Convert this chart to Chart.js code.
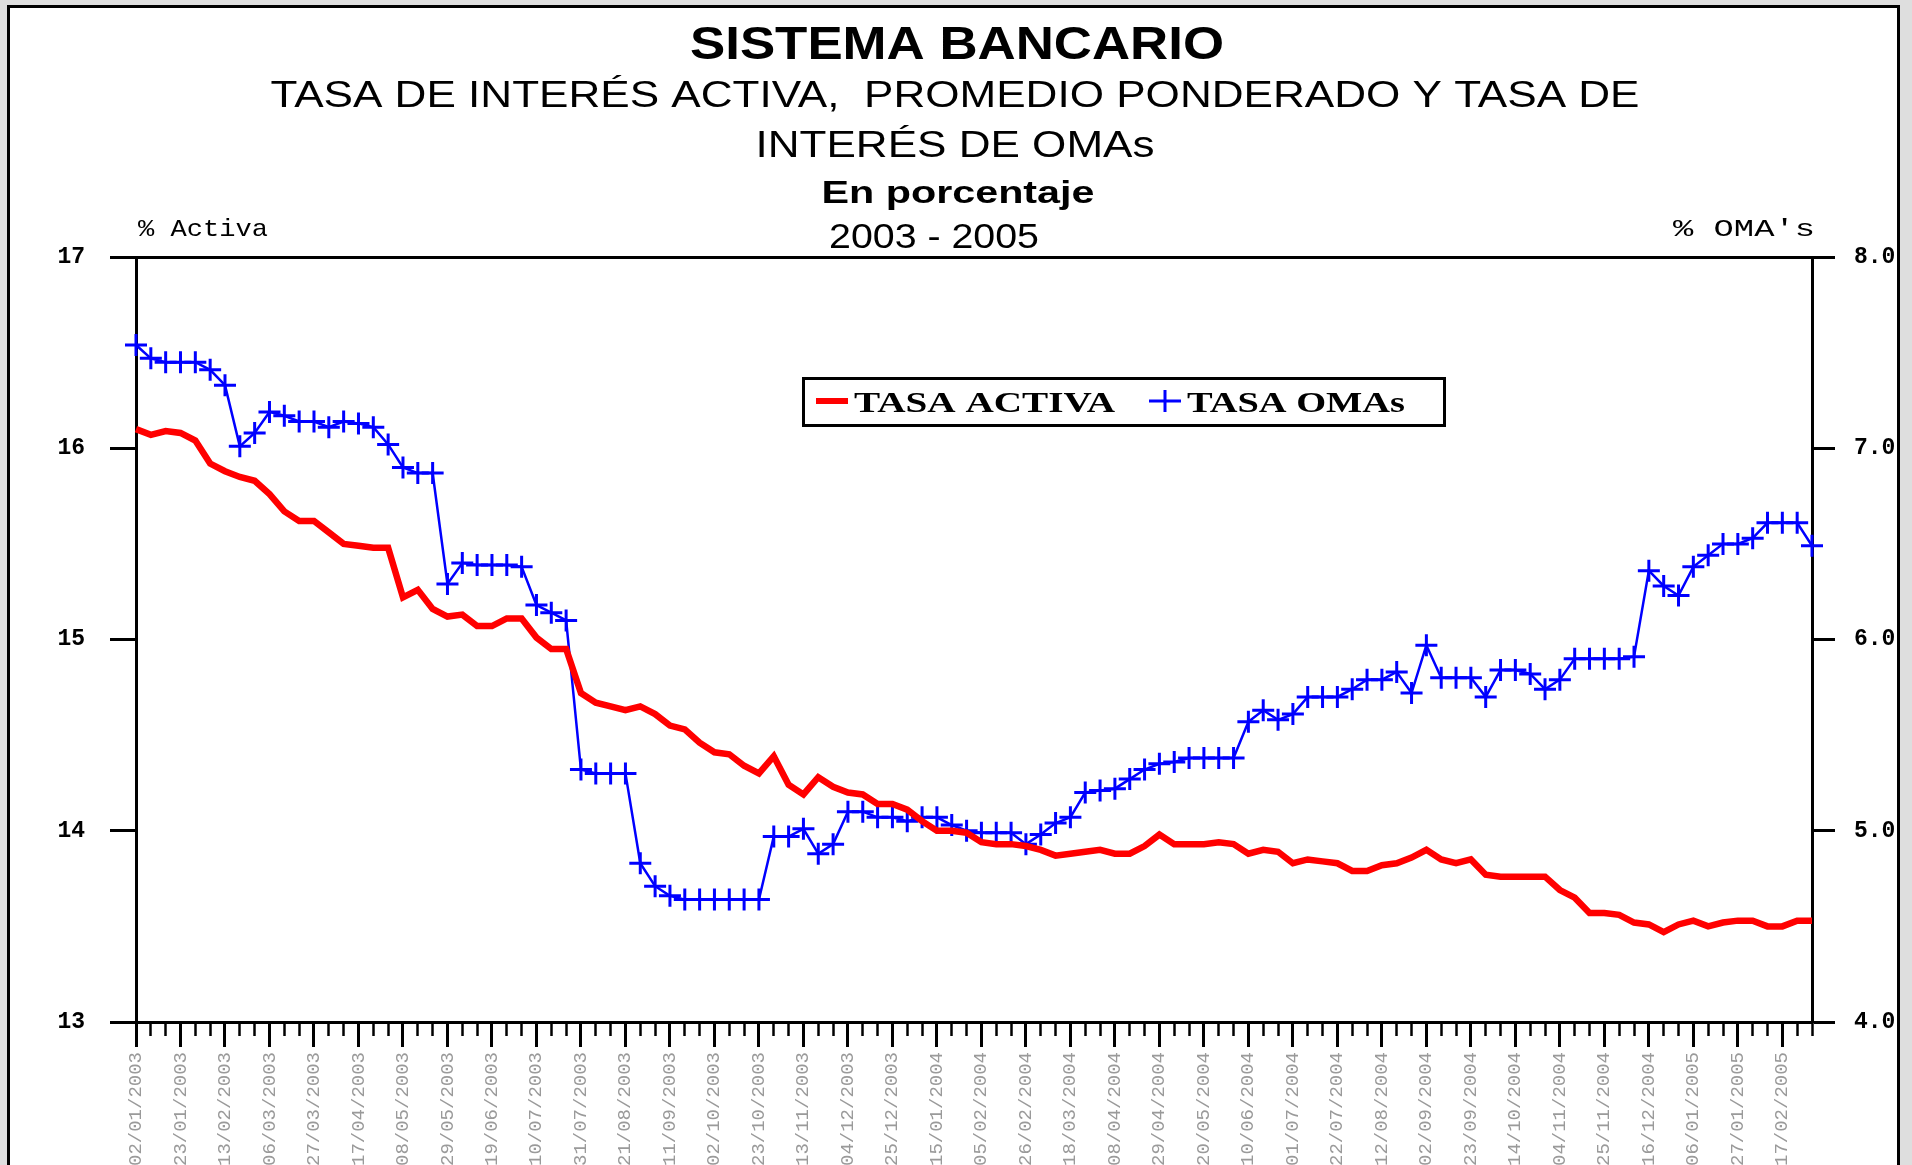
<!DOCTYPE html>
<html>
<head>
  <meta charset="utf-8">
  <title>Sistema Bancario - Tasa activa y tasa de OMAs</title>
  <script src="https://cdn.jsdelivr.net/npm/chart.js"></script>
  <style>
    body {
      margin: 0;
      background: #dedede;
      overflow: hidden;
    }
    /* white framed sheet, runs past the bottom of the window like the scan */
    #chartContainer {
      position: absolute;
      left: 7px;
      top: 5px;
      width: 1887px;
      height: 1175px;
      border: 3px solid #000;
      background: #fff;
    }
  </style>
</head>
<body>
  <div id="chartContainer">
    <canvas id="lineChart"></canvas>
  </div>

  <script>
    // x axis labels, one every three weeks
    const tickLabels = [
      '02/01/2003', '23/01/2003', '13/02/2003', '06/03/2003', '27/03/2003', '17/04/2003',
      '08/05/2003', '29/05/2003', '19/06/2003', '10/07/2003', '31/07/2003', '21/08/2003',
      '11/09/2003', '02/10/2003', '23/10/2003', '13/11/2003', '04/12/2003', '25/12/2003',
      '15/01/2004', '05/02/2004', '26/02/2004', '18/03/2004', '08/04/2004', '29/04/2004',
      '20/05/2004', '10/06/2004', '01/07/2004', '22/07/2004', '12/08/2004', '02/09/2004',
      '23/09/2004', '14/10/2004', '04/11/2004', '25/11/2004', '16/12/2004', '06/01/2005',
      '27/01/2005', '17/02/2005'
    ];

    // tasa activa, promedio ponderado (% , left axis), weekly
    const tasaActiva = [
      16.10, 16.07, 16.09, 16.08, 16.04, 15.92, 15.88, 15.85, 15.83, 15.76,
      15.67, 15.62, 15.62, 15.56, 15.50, 15.49, 15.48, 15.48, 15.22, 15.26,
      15.16, 15.12, 15.13, 15.07, 15.07, 15.11, 15.11, 15.01, 14.95, 14.95,
      14.72, 14.67, 14.65, 14.63, 14.65, 14.61, 14.55, 14.53, 14.46, 14.41,
      14.40, 14.34, 14.30, 14.39, 14.24, 14.19, 14.28, 14.23, 14.20, 14.19,
      14.14, 14.14, 14.11, 14.05, 14.00, 14.00, 13.99, 13.94, 13.93, 13.93,
      13.92, 13.90, 13.87, 13.88, 13.89, 13.90, 13.88, 13.88, 13.92, 13.98,
      13.93, 13.93, 13.93, 13.94, 13.93, 13.88, 13.90, 13.89, 13.83, 13.85,
      13.84, 13.83, 13.79, 13.79, 13.82, 13.83, 13.86, 13.90, 13.85, 13.83,
      13.85, 13.77, 13.76, 13.76, 13.76, 13.76, 13.69, 13.65, 13.57, 13.57,
      13.56, 13.52, 13.51, 13.47, 13.51, 13.53, 13.50, 13.52, 13.53, 13.53,
      13.50, 13.50, 13.53, 13.53
    ];

    // tasa de OMAs (%, right axis), weekly
    const tasaOmas = [
      7.54, 7.47, 7.45, 7.45, 7.45, 7.41, 7.33, 7.01, 7.08, 7.19,
      7.17, 7.14, 7.14, 7.11, 7.14, 7.13, 7.11, 7.02, 6.90, 6.87,
      6.87, 6.29, 6.40, 6.39, 6.39, 6.39, 6.38, 6.18, 6.14, 6.10,
      5.32, 5.30, 5.30, 5.30, 4.83, 4.71, 4.66, 4.64, 4.64, 4.64,
      4.64, 4.64, 4.64, 4.97, 4.97, 5.01, 4.88, 4.93, 5.10, 5.10,
      5.07, 5.07, 5.05, 5.07, 5.07, 5.03, 5.00, 4.99, 4.99, 4.99,
      4.93, 4.98, 5.04, 5.07, 5.20, 5.21, 5.22, 5.27, 5.32, 5.35,
      5.36, 5.38, 5.38, 5.38, 5.38, 5.57, 5.63, 5.58, 5.61, 5.70,
      5.70, 5.70, 5.74, 5.79, 5.79, 5.83, 5.72, 5.97, 5.80, 5.80,
      5.80, 5.70, 5.84, 5.84, 5.82, 5.74, 5.79, 5.90, 5.90, 5.90,
      5.90, 5.91, 6.36, 6.28, 6.23, 6.38, 6.44, 6.50, 6.50, 6.53,
      6.61, 6.61, 6.61, 6.49
    ];

    // one category per week starting 02/01/2003
    const weeks = tasaActiva.map((v, i) => {
      const d = new Date(Date.UTC(2003, 0, 2 + 7 * i));
      const dd = String(d.getUTCDate()).padStart(2, '0');
      const mm = String(d.getUTCMonth() + 1).padStart(2, '0');
      return dd + '/' + mm + '/' + d.getUTCFullYear();
    });

    // text is stretched sideways to the widths seen in the scan
    function stretchText(ctx, text, x, y, font, width, align) {
      ctx.save();
      ctx.font = font;
      const natural = ctx.measureText(text).width;
      const left = align === 'center' ? x - width / 2 : x;
      ctx.translate(left, y);
      ctx.scale(width / natural, 1);
      ctx.textAlign = 'left';
      ctx.textBaseline = 'alphabetic';
      ctx.fillStyle = '#000';
      ctx.fillText(text, 0, 0);
      ctx.restore();
    }

    // titles, unit labels and the boxed legend
    const sheetText = {
      id: 'sheetText',
      afterDraw(chart) {
        const ctx = chart.ctx;
        const sans = '"Liberation Sans", Arial, sans-serif';
        stretchText(ctx, 'SISTEMA BANCARIO', 947, 51, 'bold 47px ' + sans, 534, 'center');
        stretchText(ctx, 'TASA DE INTERÉS ACTIVA,  PROMEDIO PONDERADO Y TASA DE', 945, 99, '37px ' + sans, 1369, 'center');
        stretchText(ctx, 'INTERÉS DE OMAs', 945, 149, '37px ' + sans, 399, 'center');
        stretchText(ctx, 'En porcentaje', 948, 195, 'bold 31px ' + sans, 273, 'center');
        stretchText(ctx, '2003 - 2005', 924, 240, '35px ' + sans, 210, 'center');

        const mono = '24px "Liberation Mono", monospace';
        stretchText(ctx, '% Activa', 128, 228, mono, 130, 'left');
        stretchText(ctx, "% OMA's", 1663, 228, mono, 142, 'left');

        // legend box
        ctx.save();
        ctx.strokeStyle = '#000';
        ctx.lineWidth = 3;
        ctx.strokeRect(793.5, 370.5, 641, 47);
        ctx.strokeStyle = '#ff0000';
        ctx.lineWidth = 6;
        ctx.beginPath();
        ctx.moveTo(806, 393);
        ctx.lineTo(838, 393);
        ctx.stroke();
        ctx.strokeStyle = '#0000ff';
        ctx.lineWidth = 3;
        ctx.beginPath();
        ctx.moveTo(1139, 393);
        ctx.lineTo(1171, 393);
        ctx.moveTo(1155, 382);
        ctx.lineTo(1155, 404);
        ctx.stroke();
        ctx.restore();
        const serif = 'bold 30px "Liberation Serif", serif';
        stretchText(ctx, 'TASA ACTIVA', 844, 404, serif, 261, 'left');
        stretchText(ctx, 'TASA OMAs', 1177, 404, serif, 218, 'left');
      }
    };

    const tickFont = { family: 'Liberation Mono', size: 23, weight: 'bold' };

    const ctx = document.getElementById('lineChart').getContext('2d');
    const myChart = new Chart(ctx, {
      type: 'line',
      data: {
        labels: weeks,
        datasets: [
          {
            label: 'TASA ACTIVA',
            data: tasaActiva,
            yAxisID: 'y',
            borderColor: '#ff0000',
            borderWidth: 6.5,
            pointRadius: 0,
            tension: 0
          },
          {
            label: 'TASA OMAs',
            data: tasaOmas,
            yAxisID: 'y1',
            borderColor: '#0000ff',
            backgroundColor: '#0000ff',
            borderWidth: 2.5,
            pointStyle: 'cross',
            pointRadius: 11,
            pointBorderWidth: 3,
            pointBorderColor: '#0000ff',
            tension: 0
          }
        ]
      },
      options: {
        responsive: true,
        maintainAspectRatio: false,
        animation: false,
        layout: { padding: { top: 249, left: 0, right: 0, bottom: 0 } },
        plugins: {
          legend: { display: false },
          tooltip: { enabled: false },
          title: { display: false }
        },
        scales: {
          x: {
            type: 'category',
            position: 'bottom',
            ticks: {
              autoSkip: false,
              minRotation: 90,
              maxRotation: 90,
              padding: 5,
              color: '#9a9a9a',
              font: { family: 'Liberation Mono', size: 19 },
              callback: (value, index) => index % 3 === 0 ? tickLabels[index / 3] : ''
            },
            grid: {
              drawOnChartArea: false,
              tickLength: 25,
              tickWidth: 3,
              tickColor: (c) => c.index % 3 === 0 ? '#000' : 'rgba(0,0,0,0)'
            },
            border: { color: '#000', width: 3 },
            afterFit: (scale) => { scale.height = 161; }
          },
          // short weekly ticks under the same axis line
          xWeek: {
            type: 'category',
            position: { y: 13 },
            ticks: { display: false, autoSkip: false },
            grid: {
              drawOnChartArea: false,
              tickLength: 14,
              tickWidth: 2.5,
              tickColor: '#000'
            },
            border: { display: false }
          },
          y: {
            position: 'left',
            min: 13,
            max: 17,
            ticks: { stepSize: 1, padding: 25, color: '#000', font: tickFont },
            grid: {
              drawOnChartArea: true,
              color: (c) => c.tick && c.tick.value === 17 ? '#000' : 'rgba(0,0,0,0)',
              lineWidth: 3,
              tickLength: 26,
              tickWidth: 3,
              tickColor: '#000'
            },
            border: { color: '#000', width: 3 },
            afterFit: (scale) => { scale.width = 126; }
          },
          y1: {
            position: 'right',
            min: 4,
            max: 8,
            ticks: {
              stepSize: 1,
              padding: 19,
              color: '#000',
              font: tickFont,
              callback: (value) => Number(value).toFixed(1)
            },
            grid: {
              drawOnChartArea: false,
              tickLength: 23,
              tickWidth: 3,
              tickColor: '#000'
            },
            border: { color: '#000', width: 3 },
            afterFit: (scale) => { scale.width = 85; }
          }
        }
      },
      plugins: [sheetText]
    });
  </script>
</body>
</html>
